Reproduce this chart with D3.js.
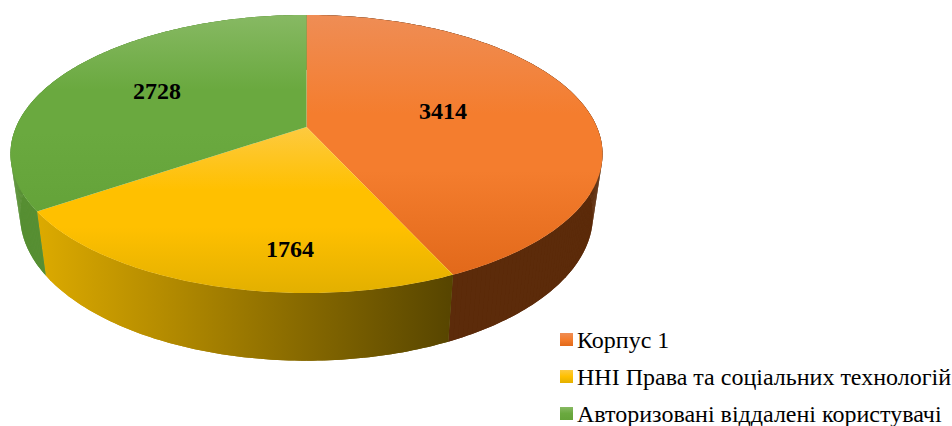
<!DOCTYPE html>
<html><head><meta charset="utf-8">
<script src="https://cdn.jsdelivr.net/npm/d3@7"></script>
<style>html,body{margin:0;padding:0;background:#fff}svg{display:block}</style>
</head><body><svg id="c" width="952" height="426"></svg>
<script>
const categories = ["Корпус 1", "ННІ Права та соціальних технологій", "Авторизовані віддалені користувачі"];
const values = [3414, 1764, 2728];

// layout / style (separate from data)
const tints = [
  ["#ef8d55","#f47d2e","#e2691a"],
  ["#fdca40","#ffc000","#e3b000"],
  ["#87b963","#6aa93f","#64a339"]
];
const sideColors = ["#5c2b0a", null, "#578f33"];
const labelPx = [[443,111],[290,249],[157,91]];
const K = 0.194;
const topPlane = {cx:306.5, cy:127, a:290.4, b:133.8};
const botPlane = {cx:306.5, cy:187, a:281,   b:140};
const unitX = p => d3.scaleLinear().domain([0,1]).range([p.cx, p.cx + p.a]);
const unitY = p => d3.scaleLinear().domain([0,1]).range([p.cy, p.cy + p.b]);
function project(p, theta, r=1){
  const X = r*Math.sin(theta), Y = -r*Math.cos(theta), w = 1 - K*Y;
  return [unitX(p)(X/w), unitY(p)(Y/w)];
}
const svg = d3.select("#c");
const defs = svg.append("defs");
const line = d3.line();

const arcs = d3.pie().sort(null).startAngle(0).endAngle(2*Math.PI)(values);
const sample = (a0,a1) => { const n = Math.max(2,Math.ceil((a1-a0)*60)); return d3.range(n+1).map(i=>a0+(a1-a0)*i/n); };
const facePts = d => [project(topPlane,0,0)].concat(sample(d.startAngle,d.endAngle).map(t=>project(topPlane,t)));

// gradients: each slice's shading spans its own vertical extent
tints.forEach((t,i)=>{
  const ext = d3.extent(facePts(arcs[i]), p=>p[1]);
  const g = defs.append("linearGradient").attr("id","top"+i).attr("gradientUnits","userSpaceOnUse")
    .attr("x1",0).attr("x2",0).attr("y1",ext[0]).attr("y2",ext[1]);
  [[0,t[0]],[0.38,t[1]],[0.6,t[1]],[1,t[2]]].forEach(s=>g.append("stop").attr("offset",s[0]).attr("stop-color",s[1]));
  const l = defs.append("linearGradient").attr("id","leg"+i).attr("x1",0).attr("x2",0).attr("y1",0).attr("y2",1);
  [[0,t[0]],[0.5,t[1]],[1,t[2]]].forEach(s=>l.append("stop").attr("offset",s[0]).attr("stop-color",s[1]));
});
// yellow side gradient
const sg = defs.append("linearGradient").attr("id","sideY").attr("gradientUnits","userSpaceOnUse")
  .attr("x1",38).attr("x2",452).attr("y1",0).attr("y2",0);
[[0,"#dcaa00"],[0.3,"#b58c00"],[0.6,"#8c6d00"],[1,"#574500"]].forEach(s=>sg.append("stop").attr("offset",s[0]).attr("stop-color",s[1]));

// sides
const side = svg.append("g");
arcs.forEach((d,i)=>{
  const th = sample(d.startAngle,d.endAngle);
  const pts = th.map(t=>project(topPlane,t)).concat(th.slice().reverse().map(t=>project(botPlane,t)));
  side.append("path").attr("d",line(pts)+"Z").attr("fill", sideColors[i] || "url(#sideY)").attr("fill-rule","nonzero");
  th.slice(1).forEach((t,j)=>{
    const q=[project(topPlane,th[j]),project(topPlane,t),project(botPlane,t),project(botPlane,th[j])];
    side.append("path").attr("d",line(q)+"Z").attr("fill", sideColors[i] || "url(#sideY)");
  });
});
// top faces
arcs.forEach((d,i)=>{
  svg.append("path").attr("d",line(facePts(d))+"Z").attr("fill",`url(#top${i})`);
});
// data labels
arcs.forEach((d,i)=>{
  svg.append("text").attr("x",labelPx[i][0]).attr("y",labelPx[i][1]+8)
    .attr("text-anchor","middle").attr("font-family","'Liberation Serif'").attr("font-weight","bold")
    .attr("font-size",24).attr("fill","#000").text(d.value);
});
// legend
const legY = d3.scalePoint().domain(categories).range([348,422]);
categories.forEach((c,i)=>{
  const y = legY(c);
  svg.append("rect").attr("x",560).attr("y",y-15).attr("width",13).attr("height",13).attr("fill",`url(#leg${i})`);
  svg.append("text").attr("x",577).attr("y",y).attr("font-family","'Liberation Serif'")
    .attr("font-size",24).attr("fill","#000").text(c);
});
</script></body></html>
